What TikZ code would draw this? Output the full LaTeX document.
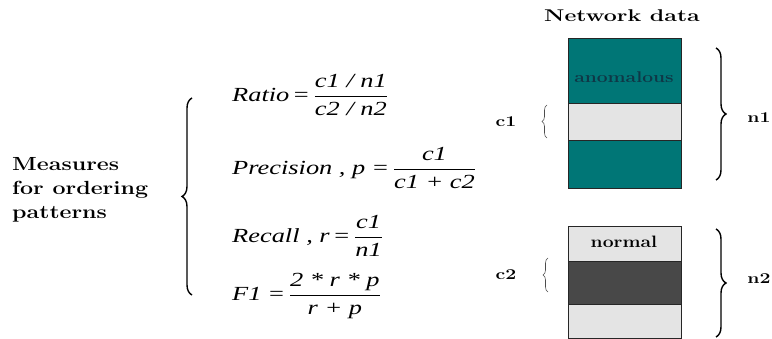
\documentclass[tikz,border=0pt]{standalone}
\usepackage{fontspec}
\usepackage{amsmath}
\usepackage{graphicx}
\usetikzlibrary{decorations.pathreplacing}
\newfontfamily\tms{Liberation Serif}
\definecolor{tealbox}{RGB}{0,118,118}
\definecolor{lightband}{RGB}{228,228,228}
\definecolor{darkband}{RGB}{72,72,72}
\definecolor{anomtext}{RGB}{15,55,70}
\newcommand{\ti}[1]{\hbox{\tms\itshape #1}}
\newcommand{\tr}[1]{\hbox{\tms #1}}
\newcommand{\wide}[1]{\scalebox{1.22}[1]{#1}}
\newcommand{\fwide}[1]{\scalebox{1.32}[1]{#1}}
\newcommand{\dfr}[2]{\genfrac{}{}{0.8pt}{0}{#1}{#2}}
\begin{document}
\begin{tikzpicture}[x=1pt,y=-1pt,
  cmtext/.style={font=\fontsize{19}{24}\selectfont\bfseries, inner sep=0pt},
  lbl/.style={font=\fontsize{15}{17}\selectfont\bfseries, inner sep=0pt},
  intext/.style={font=\fontsize{15.5}{17}\selectfont\bfseries, inner sep=0pt},
  formula/.style={font=\fontsize{20}{22}\selectfont, anchor=west, inner sep=0pt},
  band/.style={draw=black!85, line width=0.8pt, anchor=north west, minimum width=113pt, inner sep=0pt},
  bigbrace/.style={decorate, decoration={brace, amplitude=10pt}, line width=1.4pt},
  smallbrace/.style={decorate, decoration={brace, amplitude=5pt}, line width=0.6pt, draw=black!70},
]
\useasboundingbox (0,0) rectangle (772,339);
% left label and brace
\node[cmtext, anchor=west, align=left] (measures) at (12,190) {\wide{Measures}\\\wide{for ordering}\\\wide{patterns}};
\coordinate (lbtop) at (192,98);
\coordinate (lbbot) at (192,295);
\draw[bigbrace] (lbbot) -- (lbtop);
% formulas
\node[formula] (ratio) at (232,95) {\fwide{$\ti{Ratio}\,\tr{=}\,\dfr{\ti{c1 / n1}}{\ti{c2 / n2}}$}};
\node[formula] (prec) at (232,168) {\fwide{$\ti{Precision , p}\;\tr{=}\,\dfr{\ti{c1}}{\ti{c1 + c2}}$}};
\node[formula] (rec) at (232,236) {\fwide{$\ti{Recall , r}\,\tr{=}\,\dfr{\ti{c1}}{\ti{n1}}$}};
\node[formula] (f1) at (232,296) {\fwide{$\ti{F1}\;\tr{=}\,\dfr{\ti{2 * r * p}}{\ti{r + p}}$}};
% network data
\node[intext, font=\fontsize{17}{19}\selectfont\bfseries] (title) at (622,16) {\scalebox{1.36}[1]{Network data}};
% top box
\node[band, fill=tealbox, minimum height=65pt] (a1) at (568,38) {};
\node[band, fill=lightband, minimum height=37pt] (a2) at (568,103) {};
\node[band, fill=tealbox, minimum height=48pt] (a3) at (568,140) {};
\node[intext, text=anomtext] (anom) at (624,77) {\scalebox{1.24}[1]{anomalous}};
% bottom box
\node[band, fill=lightband, minimum height=35pt] (b1) at (568,226) {};
\node[band, fill=darkband, minimum height=43pt] (b2) at (568,261) {};
\node[band, fill=lightband, minimum height=34pt] (b3) at (568,304) {};
\node[intext, font=\fontsize{16.5}{18}\selectfont\bfseries] (norm) at (624,242) {\scalebox{1.17}[1]{normal}};
% c1 / c2 braces
\coordinate (c1b) at (547,138);
\coordinate (c1t) at (547,105);
\draw[smallbrace] (c1b) -- (c1t);
\node[lbl] (c1) at (506,122) {\scalebox{1.3}[1]{c1}};
\coordinate (c2b) at (548,292);
\coordinate (c2t) at (548,258);
\draw[smallbrace] (c2b) -- (c2t);
\node[lbl] (c2) at (506,275) {\scalebox{1.3}[1]{c2}};
% n1 / n2 braces
\coordinate (n1t) at (716,48);
\coordinate (n1b) at (716,180);
\draw[bigbrace] (n1t) -- (n1b);
\node[lbl] (n1) at (759,118) {\scalebox{1.3}[1]{n1}};
\coordinate (n2t) at (716,229);
\coordinate (n2b) at (716,337);
\draw[bigbrace] (n2t) -- (n2b);
\node[lbl] (n2) at (759,279) {\scalebox{1.3}[1]{n2}};
\end{tikzpicture}
\end{document}
